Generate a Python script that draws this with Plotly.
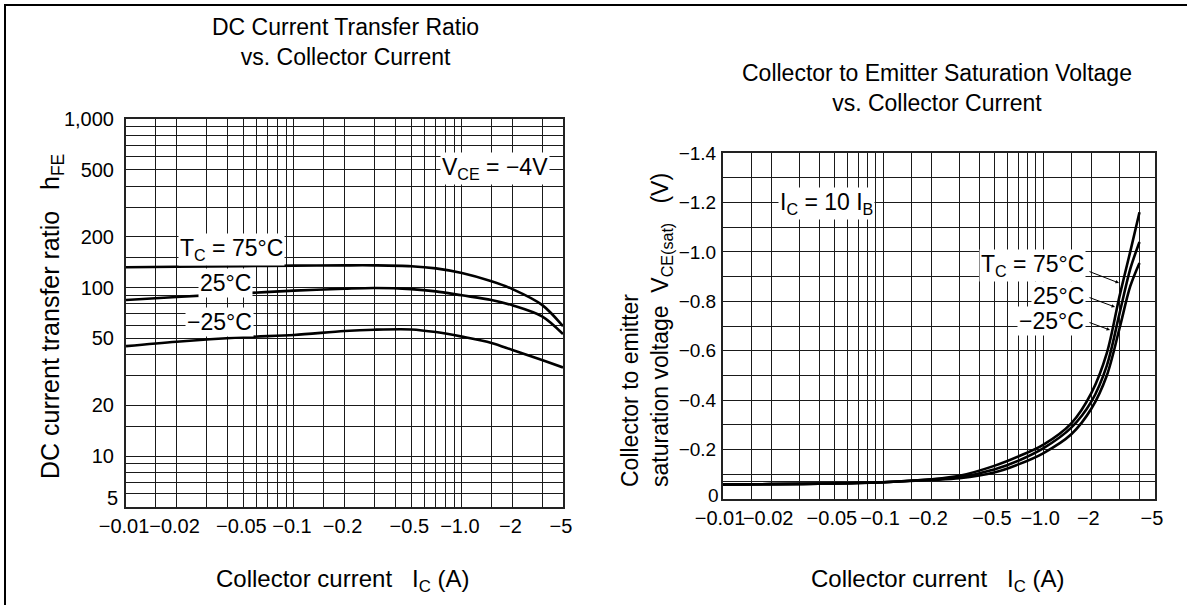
import math
import plotly.graph_objects as go

# ---------------- data ----------------
# Left: DC current transfer ratio hFE vs |collector current| (A), VCE = -4 V
ic_hfe = [0.01, 0.02, 0.05, 0.1, 0.2, 0.3, 0.5, 0.7, 1.0, 1.5, 2.0, 3.0, 4.0]
hfe_75 = [132, 133, 134, 135, 135.5, 135.5, 134, 130, 122, 109, 98, 79, 59]
hfe_25 = [84.5, 88, 92.5, 96, 98.5, 99.5, 98, 95, 90, 84.5, 78.5, 67.5, 53]
hfe_m25 = [45, 47.8, 50.8, 52.4, 55.3, 56.3, 56.5, 54.5, 51.2, 47, 42.7, 37.2, 33.6]

# Right: VCE(sat) vs |collector current| (A), IC = 10 IB
ic_sat = [0.01, 0.02, 0.05, 0.1, 0.2, 0.3, 0.5, 0.7, 1.0, 1.5, 2.0, 2.5, 3.0, 3.5, 4.0]
vsat_75 = [-0.058, -0.060, -0.063, -0.068, -0.080, -0.094, -0.135, -0.172, -0.219, -0.306, -0.428, -0.59, -0.82, -1.00, -1.16]
vsat_25 = [-0.058, -0.060, -0.063, -0.068, -0.079, -0.088, -0.120, -0.155, -0.205, -0.289, -0.394, -0.54, -0.75, -0.93, -1.04]
vsat_m25 = [-0.058, -0.060, -0.063, -0.068, -0.077, -0.084, -0.108, -0.140, -0.185, -0.262, -0.365, -0.50, -0.69, -0.86, -0.955]

# tick labels
lx_vals = [0.01, 0.02, 0.05, 0.1, 0.2, 0.5, 1.0, 2.0, 4.0]
lx_text = ["−0.01", "−0.02", "−0.05", "−0.1", "−0.2", "−0.5", "−1.0", "−2", "−5"]
lx_minor = [0.015, 0.03, 0.04, 0.06, 0.07, 0.08, 0.09, 0.15, 0.3, 0.4, 0.6, 0.7, 0.8, 0.9, 1.5, 3.0]
ly_vals = [5, 10, 20, 50, 100, 200, 500, 1000]
ly_text = ["5", "10", "20", "50", "100", "200", "500", "1,000"]
ly_minor = [6, 7, 8, 9, 15, 30, 40, 60, 70, 80, 90, 150, 300, 400, 600, 700, 800, 900]

rx_vals = [0.01, 0.02, 0.05, 0.1, 0.2, 0.5, 1.0, 2.0, 5.0]
rx_text = ["−0.01", "−0.02", "−0.05", "−0.1", "−0.2", "−0.5", "−1.0", "−2", "−5"]
rx_minor = [0.015, 0.03, 0.04, 0.06, 0.07, 0.08, 0.09, 0.15, 0.3, 0.4, 0.6, 0.7, 0.8, 0.9, 1.5, 3.0, 4.0]
ry_vals = [0, -0.2, -0.4, -0.6, -0.8, -1.0, -1.2, -1.4]
ry_text = ["0", "−0.2", "−0.4", "−0.6", "−0.8", "−1.0", "−1.2", "−1.4"]
ry_minor = [-0.07, -0.1, -0.3, -0.5, -0.7, -0.9, -1.1, -1.3]

# ---------------- figure ----------------
W, H = 1187, 605
FONT = "Liberation Sans, Arial, Helvetica, sans-serif"
NARROW = "Liberation Sans Narrow, Arial Narrow, Liberation Sans, Arial, sans-serif"
GRID = "#1a1a1a"
NBSP = "\u00a0"


def px(x):
    return x / W


def py(y):
    return 1 - y / H


fig = go.Figure()
line_style = dict(color="black", width=2.6, shape="spline", smoothing=0.9)
for ys in (hfe_75, hfe_25, hfe_m25):
    fig.add_trace(go.Scatter(x=ic_hfe, y=ys, mode="lines", line=line_style,
                             xaxis="x", yaxis="y", showlegend=False, hoverinfo="skip"))
for ys in (vsat_75, vsat_25, vsat_m25):
    fig.add_trace(go.Scatter(x=ic_sat, y=ys, mode="lines", line=line_style,
                             xaxis="x2", yaxis="y2", showlegend=False, hoverinfo="skip"))

axis_common = dict(showline=True, mirror=True, linecolor="#222222", linewidth=2,
                   showgrid=True, gridcolor=GRID, gridwidth=1, ticks="", zeroline=False,
                   automargin=False, fixedrange=True, tickangle=0)
xfont = dict(family=NARROW, size=20, color="black")
minor_common = dict(tickmode="array", showgrid=True, gridcolor=GRID, gridwidth=1, ticks="")

# the lowest y labels sit a little above their grid line in the reference
# (clear of the x labels), so they are drawn as annotations below
ly_ticktext = [""] + ly_text[1:]
ry_ticktext = [""] + ry_text[1:]

fig.update_layout(
    template="none",
    width=W, height=H, margin=dict(l=0, r=0, t=0, b=0, pad=0, autoexpand=False),
    paper_bgcolor="white", plot_bgcolor="white", showlegend=False,
    font=dict(family=FONT, size=23, color="black"),
    xaxis=dict(domain=[px(126), px(563)], anchor="y", type="log",
               range=[math.log10(0.01), math.log10(4.0)],
               tickmode="array", tickvals=lx_vals, ticktext=lx_text, tickfont=xfont,
               minor=dict(tickvals=lx_minor, **minor_common),
               ticklabelstandoff=0, ticklabelshift=-2, **axis_common),
    yaxis=dict(domain=[py(507), py(119)], anchor="x", type="log",
               range=[math.log10(5), math.log10(1000)],
               tickmode="array", tickvals=ly_vals, ticktext=ly_ticktext,
               tickfont=dict(family=FONT, size=20, color="black"),
               minor=dict(tickvals=ly_minor, **minor_common),
               ticklabelstandoff=6, **axis_common),
    xaxis2=dict(domain=[px(723), px(1155)], anchor="y2", type="log",
                range=[math.log10(0.01), math.log10(5.0)],
                tickmode="array", tickvals=rx_vals, ticktext=rx_text, tickfont=xfont,
                minor=dict(tickvals=rx_minor, **minor_common),
                ticklabelstandoff=0, ticklabelshift=-3, **axis_common),
    yaxis2=dict(domain=[py(499), py(153)], anchor="x2",
                range=[0, -1.4],
                tickmode="array", tickvals=ry_vals, ticktext=ry_ticktext,
                tickfont=dict(family=FONT, size=19, color="black"),
                minor=dict(tickvals=ry_minor, **minor_common),
                ticklabelstandoff=1, **axis_common),
)

# lowest y tick labels, anchored to their axis values
fig.add_annotation(xref="paper", x=px(126), xanchor="right", xshift=-6,
                   yref="y", y=math.log10(ly_vals[0]), yanchor="middle", yshift=9,
                   text=ly_text[0], showarrow=False,
                   font=dict(family=FONT, size=20, color="black"))
fig.add_annotation(xref="paper", x=px(723), xanchor="right", xshift=-2,
                   yref="y2", y=ry_vals[0], yanchor="middle", yshift=4,
                   text=ry_text[0], showarrow=False,
                   font=dict(family=FONT, size=19, color="black"))

# outer frame (right/bottom edges fall outside the picture)
fig.add_shape(type="rect", xref="paper", yref="paper",
              x0=px(5), y0=-0.05, x1=1.05, y1=py(5),
              line=dict(color="black", width=2), fillcolor="rgba(0,0,0,0)", layer="above")


def text(x, y, s, size=23, bg=None, angle=0, align="center", xanchor="center"):
    fig.add_annotation(x=px(x), y=py(y), xref="paper", yref="paper", text=s,
                       showarrow=False, textangle=angle, align=align,
                       xanchor=xanchor, yanchor="middle",
                       font=dict(family=FONT, size=size, color="black"),
                       bgcolor=bg, borderpad=1)


# chart titles
text(345, 42, "DC Current Transfer Ratio<br>vs. Collector Current", size=23)
text(937, 88, "Collector to Emitter Saturation Voltage<br>vs. Collector Current", size=23)

# axis titles
text(343, 580, f"Collector current{NBSP*3}I<sub>C</sub> (A)", size=24)
text(938, 580, f"Collector current{NBSP*3}I<sub>C</sub> (A)", size=24)
text(52, 317, f"DC current transfer ratio{NBSP*3}h<sub>FE</sub>", size=25, angle=-90)
text(646, 330, f"Collector to emitter<br>saturation voltage{NBSP*2}V<sub>CE(sat)</sub>{NBSP*3}(V)",
     angle=-90, align="left")

# in-plot labels (left)
text(231, 250, "T<sub>C</sub> = 75°C", bg="white")
text(225, 283, "25°C", bg="white")
text(219, 322, "−25°C", bg="white")
text(495, 168, "V<sub>CE</sub> = −4V", bg="white")

# in-plot labels (right)
text(826, 203, "I<sub>C</sub> = 10 I<sub>B</sub>", bg="white")
text(1086, 265, "T<sub>C</sub> = 75°C", bg="white", xanchor="right")
text(1086, 296, "25°C", bg="white", xanchor="right")
text(1086, 321, "−25°C", bg="white", xanchor="right")

# pointer arrows from the labels to the curves
for (tx, ty), (ax, ay) in [((1119, 283), (1088, 271)), ((1115, 307), (1088, 297)), ((1110, 330), (1088, 322))]:
    fig.add_annotation(x=px(tx), y=py(ty), xref="paper", yref="paper", text="",
                       showarrow=True, arrowhead=2, arrowsize=0.7, arrowwidth=1,
                       arrowcolor="black", axref="pixel", ayref="pixel",
                       ax=ax - tx, ay=ay - ty, standoff=0)

# the page's default 8px body margin would shift the whole figure; remove it
fig.write_html("out.html", config={"displayModeBar": False},
               post_script="document.body.style.margin='0px';")
